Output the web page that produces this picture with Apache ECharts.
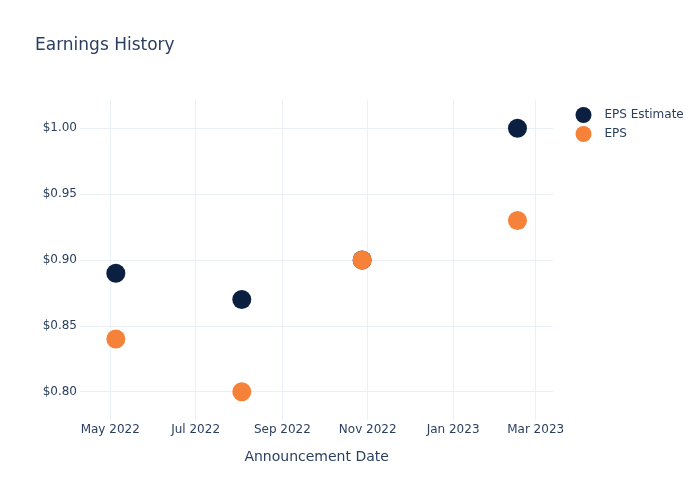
<!DOCTYPE html>
<html>
<head>
<meta charset="utf-8">
<script src="https://cdn.jsdelivr.net/npm/echarts@6/dist/echarts.min.js"></script>
<style>html,body{margin:0;padding:0;background:#fff}#c{width:700px;height:500px}</style>
</head>
<body>
<div id="c"></div>
<script>
const announcementDates = ['2022-05-05', '2022-08-03', '2022-10-28', '2023-02-16'];
const epsEstimate = [0.89, 0.87, 0.90, 1.00];
const epsActual = [0.84, 0.80, 0.90, 0.93];
const xTickDates = ['2022-05-01', '2022-07-01', '2022-09-01', '2022-11-01', '2023-01-01', '2023-03-01'];
const xTickLabels = ['May 2022', 'Jul 2022', 'Sep 2022', 'Nov 2022', 'Jan 2023', 'Mar 2023'];
const yTicks = [0.80, 0.85, 0.90, 0.95, 1.00];

const t = s => +new Date(s + 'T00:00:00');
const xTickVals = xTickDates.map(t);
const FONT = 'DejaVu Sans';
const TXT = '#2a3f5f';
const GRID = '#ebf0f8';

const chart = echarts.init(document.getElementById('c'), null, {renderer: 'canvas'});
chart.setOption({
  backgroundColor: '#fff',
  animation: false,
  textStyle: {fontFamily: FONT, color: TXT},
  title: {
    text: 'Earnings History', left: 35, top: 37, padding: 0,
    textStyle: {fontFamily: FONT, fontSize: 17, fontWeight: 'normal', color: TXT}
  },
  legend: {
    orient: 'vertical', left: 575.5, top: 107, padding: 0,
    itemWidth: 32, itemHeight: 16, itemGap: 3, icon: 'circle',
    textStyle: {fontFamily: FONT, fontSize: 12, color: TXT},
    data: ['EPS Estimate', 'EPS']
  },
  grid: {left: 80, right: 146.7, top: 100, bottom: 80},
  xAxis: {
    type: 'value',
    min: +new Date('2022-04-09T09:36:00'),
    max: +new Date('2023-03-13T14:24:00'),
    name: 'Announcement Date', nameLocation: 'middle', nameGap: 30,
    nameTextStyle: {fontFamily: FONT, fontSize: 14, color: TXT},
    axisLine: {show: false},
    axisTick: {show: false, customValues: xTickVals},
    splitLine: {show: true, lineStyle: {color: GRID, width: 1}},
    axisLabel: {
      customValues: xTickVals, margin: 4, fontFamily: FONT, fontSize: 12, color: TXT,
      hideOverlap: false,
      formatter: v => { const i = xTickVals.indexOf(v); return i >= 0 ? xTickLabels[i] : ''; }
    }
  },
  yAxis: {
    type: 'value', min: 0.7785, max: 1.0215,
    axisLine: {show: false},
    axisTick: {show: false, customValues: yTicks},
    splitLine: {show: true, lineStyle: {color: GRID, width: 1}},
    axisLabel: {
      customValues: yTicks, margin: 3, fontFamily: FONT, fontSize: 12, color: TXT,
      formatter: v => '$' + v.toFixed(2)
    }
  },
  series: [
    {
      name: 'EPS Estimate', type: 'scatter', symbol: 'circle', symbolSize: 19,
      itemStyle: {color: '#0b1f40', opacity: 1},
      data: announcementDates.map((d, i) => [t(d), epsEstimate[i]])
    },
    {
      name: 'EPS', type: 'scatter', symbol: 'circle', symbolSize: 19,
      itemStyle: {color: '#f6823a', opacity: 1},
      data: announcementDates.map((d, i) => [t(d), epsActual[i]])
    }
  ]
});
</script>
</body>
</html>
